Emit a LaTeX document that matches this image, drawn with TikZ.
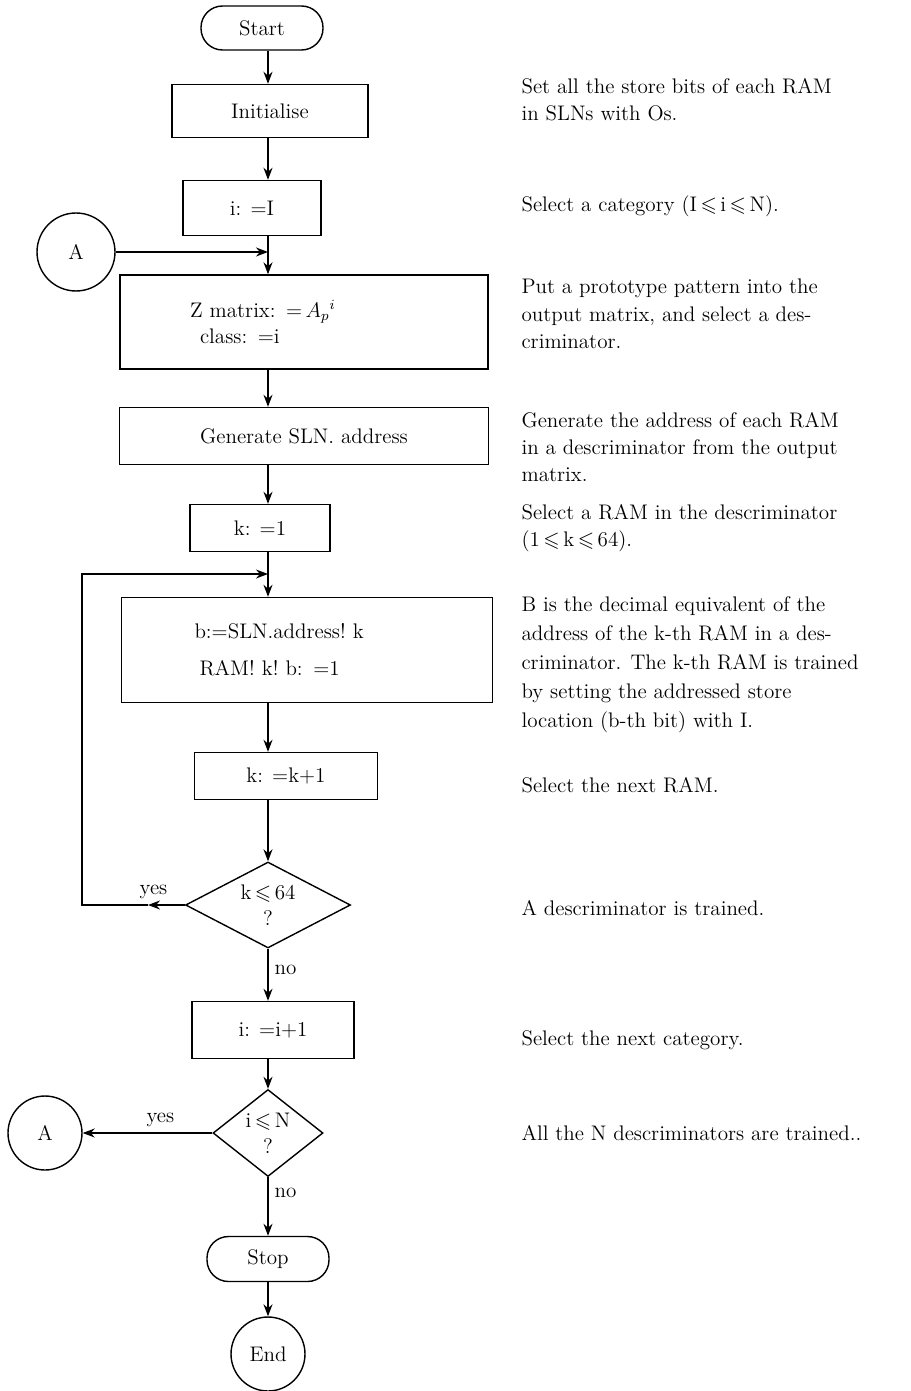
\documentclass[tikz,border=0pt]{standalone}
\usepackage{amssymb}
\usetikzlibrary{shapes.geometric,arrows.meta}

\begin{document}
\begin{tikzpicture}[x=0.02cm,y=-0.02cm,
	line width=0.8pt,
	>={Stealth[length=2.4mm,width=1.8mm]},
	every node/.style={font=\fontsize{12}{15}\selectfont},
	box/.style={draw,rectangle,inner sep=0pt},
	term/.style={draw,rectangle,rounded corners=0.43cm,minimum width=2.44cm,minimum height=0.88cm},
	conn/.style={draw,circle,inner sep=0pt},
	decision/.style={draw,diamond,inner sep=0pt,align=center},
	note/.style={anchor=west,align=left,font=\fontsize{12}{15.5}\selectfont}]

	\useasboundingbox (0,0) rectangle (910,1391);
	\coordinate (axis) at (268,0);

	% flow chart
	\node[term] (start) at (262,28) {Start};
	\node[box,minimum width=3.92cm,minimum height=1.06cm] (init) at (270,111) {Initialise};
	\node[box,minimum width=2.76cm,minimum height=1.1cm] (seti) at (252,208) {i: =I};
	\node[conn,minimum size=1.56cm] (conA) at (76,252) {A};
	\node[box,minimum height=1.88cm,text width=4.56cm,inner xsep=1.4cm,align=left] (zmat) at (304,322)
		{Z matrix: ${=}\,A_p{}^{i}$\\\hspace{0.2cm}class: =i};
	\node[box,minimum width=7.38cm,minimum height=1.14cm] (gen) at (304,436) {Generate SLN. address};
	\node[box,minimum width=2.8cm,minimum height=0.94cm] (kone) at (260,528) {k: =1};
	\node[box,minimum height=2.1cm,text width=4.5cm,inner xsep=1.46cm,align=left] (train) at (307,650)
		{b:=SLN.address!\ k\\[6pt]\hspace{0.1cm}RAM!\ k!\ b: =1};
	\node[box,minimum width=3.66cm,minimum height=0.94cm] (kinc) at (286,776) {k: =k+1};
	\node[decision,aspect=1.9,minimum width=3.3cm,minimum height=1.72cm] (kcheck) at (268,905)
		{k\,$\leqslant$\,64\\?};
	\node[box,minimum width=3.24cm,minimum height=1.14cm] (iinc) at (273,1030) {i: =i+1};
	\node[decision,aspect=1.26,minimum width=2.2cm,minimum height=1.74cm] (icheck) at (268,1133)
		{i\,$\leqslant$\,N\\?};
	\node[conn,minimum size=1.48cm] (conB) at (45,1133) {A};
	\node[term,minimum height=0.9cm] (stop) at (268,1259) {Stop};
	\node[conn,minimum size=1.48cm] (finish) at (268,1354) {End};

	\coordinate (loopjoin) at (268,574);
	\coordinate (yestip) at (148,905);
	\coordinate (loopcorner) at (82,905);

	\draw[->] (axis |- start.south) -- (axis |- init.north);
	\draw[->] (axis |- init.south) -- (axis |- seti.north);
	\draw[->] (axis |- seti.south) -- (axis |- zmat.north);
	\draw[->] (conA.east) -- (axis |- conA.east);
	\draw[->] (axis |- zmat.south) -- (axis |- gen.north);
	\draw[->] (axis |- gen.south) -- (axis |- kone.north);
	\draw[->] (axis |- kone.south) -- (axis |- train.north);
	\draw[->] (axis |- train.south) -- (axis |- kinc.north);
	\draw[->] (axis |- kinc.south) -- (kcheck.north);
	\draw[->] (kcheck.west) -- node[above,pos=0.85] {yes} (yestip);
	\draw[->] (yestip) -- (loopcorner) |- (loopjoin);
	\draw[->] (kcheck.south) -- node[right,pos=0.4] {no} (axis |- iinc.north);
	\draw[->] (axis |- iinc.south) -- (icheck.north);
	\draw[->] (icheck.west) -- node[above,pos=0.4] {yes} (conB.east);
	\draw[->] (icheck.south) -- node[right,pos=0.26] {no} (stop.north);
	\draw[->] (stop.south) -- (finish.north);

	% explanations
	\node[note] (n1) at (515,100) {Set all the store bits of each RAM\\in SLNs with Os.};
	\node[note] (n2) at (515,206) {Select a category (I\,$\leqslant$\,i\,$\leqslant$\,N).};
	\node[note] (n3) at (515,314) {Put a prototype pattern into the\\output matrix, and select a des-\\criminator.};
	\node[note] (n4) at (515,447) {Generate the address of each RAM\\in a descriminator from the output\\matrix.};
	\node[note] (n5) at (515,528) {Select a RAM in the descriminator\\(1\,$\leqslant$\,k\,$\leqslant$\,64).};
	\node[note,font=\fontsize{12}{16.5}\selectfont] (n6) at (515,665)
		{B is the decimal equivalent of the\\address of the k-th RAM in a des-\\criminator. The k-th RAM is trained\\by setting the addressed store\\location (b-th bit) with I.};
	\node[note] (n7) at (515,785) {Select the next RAM.};
	\node[note] (n8) at (515,908) {A descriminator is trained.};
	\node[note] (n9) at (515,1040) {Select the next category.};
	\node[note] (n10) at (515,1133) {All the N descriminators are trained..};
\end{tikzpicture}
\end{document}
